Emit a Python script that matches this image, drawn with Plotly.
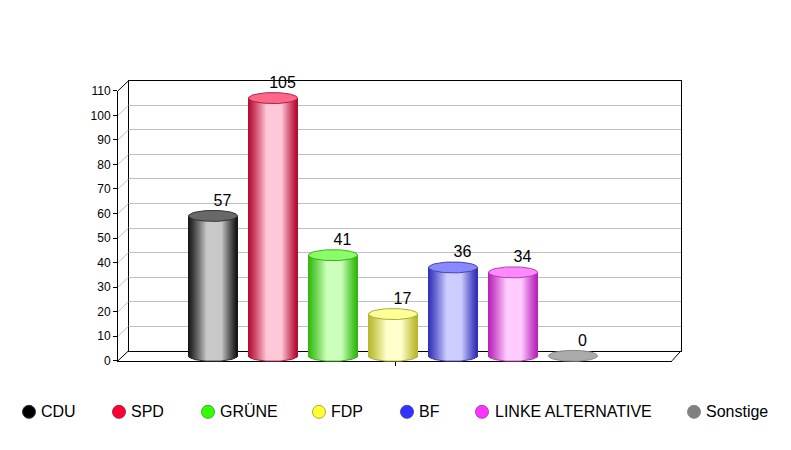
import numpy as np
import plotly.graph_objects as go

# ---- data ----
CATEGORIES = ["CDU", "SPD", "GRÜNE", "FDP", "BF", "LINKE ALTERNATIVE", "Sonstige"]
VALUES = [57, 105, 41, 17, 36, 34, 0]
BASE_COLORS = ["#000000", "#ff0033", "#33ff00", "#ffff33", "#3333ff", "#ff33ff", "#808080"]
TOP_COLORS = ["#686868", "#ff6688", "#88ff66", "#ffff99", "#8888ff", "#ff88ff", "#aaaaaa"]
EDGE_COLORS = ["#141414", "#b40a30", "#2fb80c", "#b8b82a", "#2f2fb8", "#b822b8", "#808080"]
MID_COLORS = ["#c8c8c8", "#ffc8d8", "#ccffbb", "#ffffcc", "#ccccff", "#ffccff", "#cccccc"]
LINE_COLORS = ["#333333", "#aa2244", "#44aa22", "#aaaa33", "#4444aa", "#aa44aa", "#888888"]
TICKS = list(range(0, 111, 10))

# ---- layout geometry (pixels) ----
W, H = 791, 450
M = 10
PH = H - 2 * M
SHIFT_Y = 0.8
FRONT = dict(l=118, r=672, t=90, b=360)
BACK = dict(l=128.5, r=681, t=80, b=350)
BAR_C0, BAR_STEP, BAR_W = 213, 60, 49
BAR_ZERO_Y = 355
PX_PER_UNIT = 270 / 110
ELL_RY = 5.5
LEGEND_MARK_X = [29, 119, 208, 319, 407, 482, 694]
LEGEND_TEXT_X = [41, 131, 220, 331, 419, 495, 706]
LEGEND_Y = 411
LEGEND_TEXT_Y = 412
LABEL_DX = 9.5
LABEL_DY = 6


def py(p):
    return (H - M - p - SHIFT_Y) / PH


def dom_x(a, b):
    return [a / W, b / W]


def dom_y(top, bottom):
    return [py(bottom), py(top)]


def hex_rgb(c):
    return np.array([int(c[i:i + 2], 16) for i in (1, 3, 5)], float)


def mix(a, b, t):
    r = hex_rgb(a) * (1 - t) + hex_rgb(b) * t
    return "rgb(%d,%d,%d)" % tuple(r.round())


def px_to_x(p):
    return (p - BAR_C0) / BAR_STEP


def px_to_y(p):
    return (BAR_ZERO_Y - p) / PX_PER_UNIT


def shade(f):
    """Light amount across the cylinder, f = 0..1 from left to right."""
    if f < 0.38:
        return (f / 0.38) ** 1.15
    if f > 0.68:
        return ((1 - f) / 0.32) ** 1.15
    return 1.0


fig = go.Figure()

# back wall with grid
fig.add_trace(go.Scatter(x=[0], y=[0], xaxis="x", yaxis="y", mode="markers",
                         marker=dict(opacity=0), hoverinfo="skip", showlegend=False))
# front axes
fig.add_trace(go.Scatter(x=[0], y=[0], xaxis="x2", yaxis="y2", mode="markers",
                         marker=dict(opacity=0), hoverinfo="skip", showlegend=False))

# cylinders: one column of bars per pixel strip
n = len(CATEGORIES)
idx = np.arange(n)
rx = BAR_W / 2 / BAR_STEP
ry = ELL_RY / PX_PER_UNIT
strip_w = 1 / BAR_STEP
for s in range(BAR_W):
    f = (s + 0.5) / BAR_W
    u = f * 2 - 1
    t = shade(f)
    colors = [mix(EDGE_COLORS[i], MID_COLORS[i], t) for i in range(n)]
    bottom = -ry * np.sqrt(max(0, 1 - u * u))
    bases = [bottom if v > 0 else 0 for v in VALUES]
    heights = [v - bottom if v > 0 else 0 for v in VALUES]
    fig.add_trace(go.Bar(x=idx, y=heights, base=bases, width=strip_w * 1.4,
                         offset=u * rx - strip_w * 0.7,
                         marker=dict(color=colors, line=dict(width=0)),
                         xaxis="x3", yaxis="y3", hoverinfo="skip", showlegend=False))

# cylinder bottom rims and top ellipses
half = np.linspace(np.pi, 2 * np.pi, 37)
theta = np.linspace(0, 2 * np.pi, 73)
for i, v in enumerate(VALUES):
    if v > 0:
        fig.add_trace(go.Scatter(x=i + rx * np.cos(half), y=ry * np.sin(half),
                                 mode="lines", line=dict(color=LINE_COLORS[i], width=1),
                                 xaxis="x3", yaxis="y3", hoverinfo="skip", showlegend=False))
    fig.add_trace(go.Scatter(x=i + rx * np.cos(theta), y=v + ry * np.sin(theta),
                             mode="lines", fill="toself", fillcolor=TOP_COLORS[i],
                             line=dict(color=LINE_COLORS[i], width=1),
                             xaxis="x3", yaxis="y3", hoverinfo="skip", showlegend=False))

# value labels
fig.add_trace(go.Scatter(x=idx + LABEL_DX / BAR_STEP,
                         y=[v + LABEL_DY / PX_PER_UNIT for v in VALUES],
                         mode="text", text=[str(v) for v in VALUES], textposition="top center",
                         textfont=dict(family="Liberation Sans", size=16, color="#000000"),
                         xaxis="x3", yaxis="y3", hoverinfo="skip", showlegend=False))

# legend row
for i, name in enumerate(CATEGORIES):
    fig.add_trace(go.Scatter(x=[px_to_x(LEGEND_MARK_X[i])], y=[px_to_y(LEGEND_Y)],
                             mode="markers",
                             marker=dict(size=13, color=BASE_COLORS[i],
                                         line=dict(color=LINE_COLORS[i], width=1)),
                             xaxis="x3", yaxis="y3", hoverinfo="skip", showlegend=False))
    fig.add_trace(go.Scatter(x=[px_to_x(LEGEND_TEXT_X[i])], y=[px_to_y(LEGEND_TEXT_Y)],
                             mode="text", text=[name], textposition="middle right",
                             textfont=dict(family="Liberation Sans", size=16, color="#000000"),
                             xaxis="x3", yaxis="y3", hoverinfo="skip", showlegend=False))

# diagonal connectors between the front axis ticks and the back wall
shapes = []
tmax = TICKS[-1]
for v in TICKS:
    yf = FRONT["b"] - (FRONT["b"] - FRONT["t"]) * v / tmax
    yb = BACK["b"] - (BACK["b"] - BACK["t"]) * v / tmax
    col = "#000000" if v in (0, tmax) else "#c0c0c0"
    shapes.append(dict(type="line", xref="paper", yref="paper",
                       x0=FRONT["l"] / W, x1=BACK["l"] / W,
                       y0=py(yf), y1=py(yb), line=dict(color=col, width=1)))
shapes.append(dict(type="line", xref="paper", yref="paper",
                   x0=FRONT["r"] / W, x1=BACK["r"] / W,
                   y0=py(FRONT["b"]), y1=py(BACK["b"]),
                   line=dict(color="#000000", width=1)))

fig.update_layout(
    width=W, height=H, autosize=False,
    margin=dict(l=0, r=0, t=M, b=M, pad=0),
    paper_bgcolor="#ffffff", plot_bgcolor="rgba(0,0,0,0)",
    barmode="overlay", bargap=0, showlegend=False,
    font=dict(family="Liberation Sans", color="#000000"),
    shapes=shapes,
    xaxis=dict(domain=dom_x(BACK["l"], BACK["r"]), range=[0, 1], showgrid=False, zeroline=False,
               showticklabels=False, ticks="", showline=True, mirror=True,
               linecolor="#000000", linewidth=1, fixedrange=True),
    yaxis=dict(domain=dom_y(BACK["t"], BACK["b"]), range=[0, tmax], tickvals=TICKS, showgrid=True,
               gridcolor="#c0c0c0", gridwidth=1, zeroline=False, showticklabels=False, ticks="",
               showline=True, mirror=True, linecolor="#000000", linewidth=1, fixedrange=True),
    xaxis2=dict(domain=dom_x(FRONT["l"], FRONT["r"]), range=[0, 1], tickvals=[0.5], ticktext=[""],
                ticks="outside", ticklen=4, tickcolor="#000000", showgrid=False, zeroline=False,
                showline=True, linecolor="#000000", linewidth=1, anchor="y2", fixedrange=True),
    yaxis2=dict(domain=dom_y(FRONT["t"], FRONT["b"]), range=[0, tmax], tickvals=TICKS,
                ticks="outside", ticklen=4, tickcolor="#000000", showgrid=False, zeroline=False,
                tickfont=dict(family="Liberation Sans", size=12, color="#000000"),
                showline=True, linecolor="#000000", linewidth=1, anchor="x2", fixedrange=True),
    xaxis3=dict(domain=[0, 1], range=[px_to_x(0), px_to_x(W)], visible=False,
                anchor="y3", fixedrange=True),
    yaxis3=dict(domain=[0, 1], range=[px_to_y(H - M - SHIFT_Y), px_to_y(M - SHIFT_Y)], visible=False,
                anchor="x3", fixedrange=True),
)

fig.write_html("out.html", config=dict(displayModeBar=False, responsive=False),
               default_width="791px", default_height="450px")
with open("out.html", encoding="utf-8") as f:
    page = f.read()
page = page.replace("<body>", '<body style="margin:0;overflow:hidden">', 1)
with open("out.html", "w", encoding="utf-8") as f:
    f.write(page)
